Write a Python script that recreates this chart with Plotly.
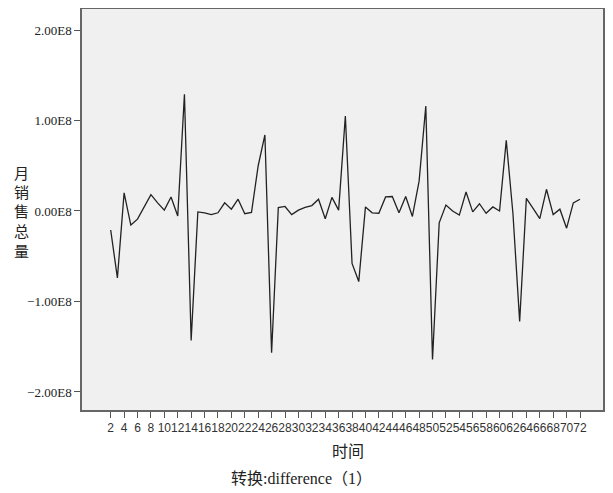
import plotly.graph_objects as go

time_idx = list(range(2, 73))
sales_diff = [
    -0.21, -0.74, 0.20, -0.155, -0.09, 0.045, 0.18, 0.09, 0.01, 0.155,
    -0.055, 1.29, -1.43, -0.01, -0.02, -0.04, -0.02, 0.09, 0.02, 0.13,
    -0.03, -0.015, 0.50, 0.84, -1.566, 0.037, 0.05, -0.04, 0.01, 0.04,
    0.06, 0.13, -0.085, 0.15, 0.01, 1.05, -0.58, -0.78, 0.045, -0.02,
    -0.025, 0.155, 0.16, -0.02, 0.16, -0.06, 0.33, 1.16, -1.64, -0.13,
    0.066, 0.0, -0.045, 0.21, -0.01, 0.08, -0.025, 0.045, 0.0, 0.78,
    -0.03, -1.22, 0.14, 0.03, -0.085, 0.24, -0.04, 0.02, -0.19, 0.09,
    0.13,
]
sales_diff = [v * 1e8 for v in sales_diff]

y_tickvals = [2e8, 1e8, 0, -1e8, -2e8]
y_ticktext = ["2.00E8", "1.00E8", "0.00E8", "\u22121.00E8", "\u22122.00E8"]
x_tickvals = list(range(2, 73, 2))
y_title = "月销售总量"
x_title = "时间"
caption = "转换:difference（1）"

SERIF = "Liberation Serif, Times New Roman, serif"
CJK = "Liberation Serif, Noto Sans CJK SC"

fig = go.Figure()
fig.add_trace(go.Scatter(
    x=time_idx, y=sales_diff, mode="lines",
    line=dict(color="#222222", width=1.3), showlegend=False,
))

fig.update_layout(
    width=605, height=485,
    margin=dict(l=74, r=10, t=1, b=83, autoexpand=False),
    paper_bgcolor="white", plot_bgcolor="#f0f0f0",
    font=dict(family=SERIF, color="#222222"),
)
fig.update_xaxes(
    range=[-2.28, 75.43], tickvals=x_tickvals, tickangle=0, automargin=False,
    ticks="outside", ticklen=6, tickcolor="#555555", tickwidth=1,
    tickfont=dict(family="Liberation Sans Narrow, Liberation Sans, Arial", size=12, color="#333333"),
    showgrid=False, zeroline=False,
    showline=True, linecolor="#666666", linewidth=1.5, mirror=True,
)
fig.update_yaxes(
    range=[-2.199e8, 2.232e8], tickvals=y_tickvals, ticktext=y_ticktext, automargin=False,
    ticks="outside", ticklen=6, tickcolor="#555555", tickwidth=1,
    tickfont=dict(family=SERIF, size=13, color="#222222"),
    showgrid=False, zeroline=False,
    showline=True, linecolor="#666666", linewidth=1.5, mirror=True,
)

# vertical stacked y-axis title
for i, ch in enumerate(y_title):
    yc = 172 + 19.5 * i
    fig.add_annotation(
        text=ch, xref="paper", yref="paper",
        x=-0.1152, y=(410 - yc) / 401, xanchor="center", yanchor="middle",
        showarrow=False,
        font=dict(family="Noto Sans CJK SC", size=15, color="#222222"),
    )
fig.add_annotation(
    text=x_title, xref="paper", yref="paper",
    x=0.5115, y=-0.0998, xanchor="center", yanchor="middle", showarrow=False,
    font=dict(family="Noto Sans CJK SC", size=16, color="#222222"),
)
fig.add_annotation(
    text=caption, xref="paper", yref="paper",
    x=0.422, y=-0.172, xanchor="center", yanchor="middle", showarrow=False,
    font=dict(family=CJK, size=16, color="#222222"),
)
fig.write_html("out.html")
